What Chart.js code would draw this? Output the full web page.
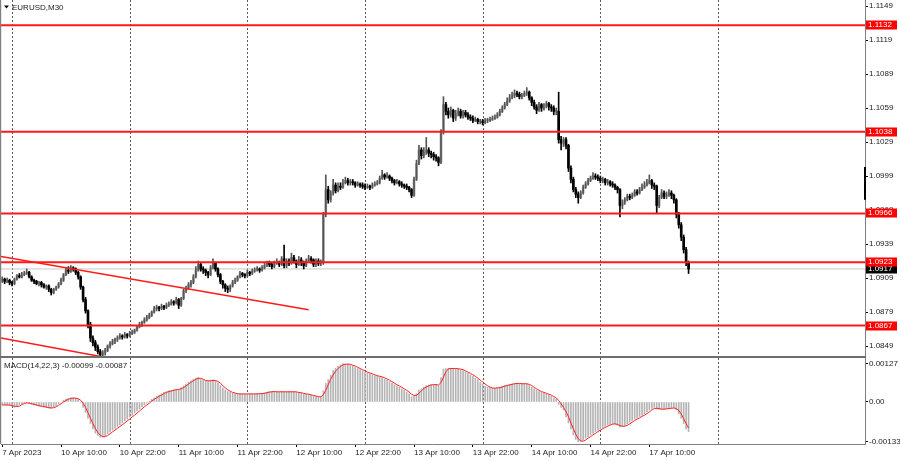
<!DOCTYPE html>
<html><head><meta charset="utf-8">
<script src="https://cdn.jsdelivr.net/npm/chart.js@4.4.0/dist/chart.umd.min.js"></script>
<style>
html,body{margin:0;padding:0;background:#fff;overflow:hidden}
#wrap{position:relative;width:900px;height:460px;background:#fff}
canvas{position:absolute;left:0}
</style></head><body>
<div id="wrap">
<canvas id="main" width="900" height="358" style="top:0"></canvas>
<canvas id="macd" width="900" height="102" style="top:358px"></canvas>
</div>
<script>
// ---- EURUSD M30 candles (bar index 0 = 7 Apr 2023 22:00) ----
const opens=[
1.0907,1.0908,1.0906,1.0907,1.0905,1.0904,1.0908,1.0911,1.0910,1.0912,
1.0913,1.0914,1.0910,1.0907,1.0906,1.0904,1.0905,1.0903,1.0901,1.0902,
1.0899,1.0896,1.0899,1.0901,1.0904,1.0907,1.0912,1.0916,1.0915,1.0918,
1.0917,1.0914,1.0910,1.0901,1.0890,1.0880,1.0868,1.0856,1.0852,1.0848,
1.0844,1.0841,1.0843,1.0845,1.0849,1.0851,1.0853,1.0855,1.0856,1.0858,
1.0857,1.0859,1.0858,1.0860,1.0861,1.0863,1.0866,1.0868,1.0870,1.0872,
1.0874,1.0876,1.0879,1.0882,1.0883,1.0882,1.0884,1.0883,1.0885,1.0886,
1.0888,1.0887,1.0890,1.0885,1.0891,1.0898,1.0900,1.0903,1.0905,1.0910,
1.0916,1.0921,1.0917,1.0916,1.0914,1.0912,1.0918,1.0922,1.0917,1.0912,
1.0906,1.0903,1.0900,1.0899,1.0902,1.0905,1.0907,1.0910,1.0913,1.0912,
1.0911,1.0914,1.0913,1.0915,1.0916,1.0917,1.0916,1.0918,1.0920,1.0922,
1.0921,1.0919,1.0922,1.0923,1.0921,1.0926,1.0920,1.0924,1.0922,1.0927,
1.0924,1.0921,1.0925,1.0923,1.0920,1.0924,1.0926,1.0925,1.0921,1.0924,
1.0922,1.0923,1.0965,1.0987,1.0978,1.0984,1.0991,1.0986,1.0990,1.0989,
1.0993,1.0995,1.0993,1.0994,1.0993,1.0991,1.0992,1.0991,1.0990,1.0989,
1.0990,1.0989,1.0991,1.0992,1.0993,1.0997,1.1000,1.0998,1.0999,1.0997,
1.0995,1.0993,1.0994,1.0992,1.0991,1.0990,1.0989,1.0987,1.0982,1.0996,
1.1010,1.1022,1.1017,1.1020,1.1022,1.1019,1.1018,1.1016,1.1015,1.1011,
1.1038,1.1062,1.1056,1.1053,1.1057,1.1050,1.1054,1.1056,1.1052,1.1055,
1.1053,1.1051,1.1050,1.1048,1.1049,1.1047,1.1047,1.1046,1.1048,1.1048,
1.1049,1.1050,1.1051,1.1053,1.1056,1.1059,1.1062,1.1065,1.1068,1.1070,
1.1072,1.1071,1.1069,1.1070,1.1072,1.1073,1.1068,1.1064,1.1060,1.1057,
1.1062,1.1059,1.1061,1.1063,1.1060,1.1059,1.1056,1.1056,1.1031,1.1028,
1.1031,1.1026,1.1006,1.0996,1.0987,1.0983,1.0980,1.0984,1.0989,1.0992,
1.0995,1.0997,1.0999,1.0998,1.0997,1.0995,1.0996,1.0993,1.0994,1.0992,
1.0991,1.0989,1.0987,1.0973,1.0976,1.0978,1.0981,1.0980,1.0982,1.0985,
1.0984,1.0987,1.0989,1.0991,1.0993,1.0995,1.0991,1.0990,1.0973,1.0980,
1.0984,1.0981,1.0982,1.0984,1.0982,1.0978,1.0965,1.0956,1.0945,1.0934,1.0923];
const highs=[
1.0910,1.0909,1.0909,1.0908,1.0906,1.0909,1.0912,1.0913,1.0914,1.0915,
1.0917,1.0915,1.0911,1.0908,1.0907,1.0906,1.0906,1.0904,1.0903,1.0903,
1.0900,1.0900,1.0902,1.0905,1.0909,1.0913,1.0918,1.0919,1.0920,1.0919,
1.0918,1.0915,1.0911,1.0902,1.0892,1.0881,1.0870,1.0858,1.0854,1.0850,
1.0846,1.0845,1.0847,1.0850,1.0853,1.0855,1.0856,1.0858,1.0860,1.0859,
1.0861,1.0860,1.0862,1.0863,1.0864,1.0867,1.0870,1.0871,1.0874,1.0876,
1.0878,1.0880,1.0884,1.0885,1.0884,1.0886,1.0885,1.0887,1.0888,1.0890,
1.0889,1.0892,1.0891,1.0892,1.0899,1.0902,1.0905,1.0907,1.0912,1.0919,
1.0924,1.0922,1.0919,1.0917,1.0915,1.0920,1.0926,1.0923,1.0918,1.0913,
1.0907,1.0904,1.0902,1.0903,1.0907,1.0909,1.0911,1.0915,1.0914,1.0913,
1.0916,1.0915,1.0917,1.0918,1.0919,1.0918,1.0920,1.0922,1.0924,1.0924,
1.0922,1.0924,1.0926,1.0924,1.0928,1.0938,1.0926,1.0926,1.0931,1.0929,
1.0925,1.0928,1.0927,1.0924,1.0926,1.0929,1.0928,1.0926,1.0926,1.0926,
1.0925,1.0967,1.1000,1.0990,1.0986,1.0996,1.0993,1.0993,1.0993,1.0996,
1.0998,1.0997,1.0996,1.0996,1.0994,1.0994,1.0993,1.0993,1.0992,1.0992,
1.0991,1.0993,1.0994,1.0995,1.0999,1.1004,1.1001,1.1002,1.1000,1.0998,
1.0996,1.0996,1.0995,1.0994,1.0992,1.0992,1.0990,1.0988,1.0998,1.1013,
1.1026,1.1024,1.1024,1.1033,1.1024,1.1021,1.1020,1.1018,1.1016,1.1040,
1.1069,1.1064,1.1059,1.1060,1.1058,1.1057,1.1059,1.1058,1.1057,1.1057,
1.1055,1.1053,1.1052,1.1051,1.1050,1.1049,1.1049,1.1050,1.1050,1.1051,
1.1052,1.1053,1.1055,1.1058,1.1061,1.1064,1.1068,1.1071,1.1073,1.1075,
1.1074,1.1073,1.1072,1.1074,1.1077,1.1074,1.1069,1.1066,1.1062,1.1064,
1.1063,1.1063,1.1065,1.1064,1.1062,1.1061,1.1059,1.1073,1.1034,1.1033,
1.1033,1.1027,1.1008,1.0998,1.0989,1.0985,1.0986,1.0991,1.0994,1.0997,
1.0999,1.1002,1.1001,1.1000,1.0999,1.0998,1.0997,1.0996,1.0995,1.0994,
1.0992,1.0990,1.0988,1.0978,1.0980,1.0983,1.0983,1.0984,1.0987,1.0987,
1.0989,1.0992,1.0994,1.0996,1.1000,1.0996,1.0993,1.0991,1.0982,1.0987,
1.0986,1.0985,1.0987,1.0986,1.0983,1.0979,1.0967,1.0958,1.0947,1.0936,1.0924];
const lows=[
1.0905,1.0904,1.0905,1.0903,1.0902,1.0903,1.0907,1.0909,1.0909,1.0911,
1.0912,1.0909,1.0906,1.0904,1.0903,1.0902,1.0901,1.0900,1.0899,1.0897,
1.0894,1.0895,1.0898,1.0900,1.0903,1.0906,1.0911,1.0913,1.0914,1.0915,
1.0912,1.0908,1.0899,1.0888,1.0878,1.0865,1.0853,1.0849,1.0845,1.0842,
1.0839,1.0839,1.0841,1.0844,1.0847,1.0850,1.0851,1.0853,1.0855,1.0855,
1.0856,1.0856,1.0857,1.0859,1.0860,1.0862,1.0865,1.0866,1.0869,1.0871,
1.0873,1.0875,1.0878,1.0880,1.0880,1.0881,1.0881,1.0882,1.0884,1.0885,
1.0885,1.0886,1.0882,1.0884,1.0890,1.0896,1.0899,1.0901,1.0904,1.0909,
1.0915,1.0915,1.0913,1.0911,1.0909,1.0911,1.0917,1.0915,1.0910,1.0904,
1.0900,1.0897,1.0896,1.0897,1.0901,1.0904,1.0906,1.0909,1.0910,1.0909,
1.0910,1.0911,1.0912,1.0914,1.0915,1.0914,1.0915,1.0917,1.0919,1.0919,
1.0917,1.0918,1.0921,1.0919,1.0920,1.0918,1.0918,1.0920,1.0921,1.0922,
1.0918,1.0920,1.0920,1.0917,1.0919,1.0923,1.0922,1.0919,1.0919,1.0920,
1.0920,1.0921,1.0963,1.0975,1.0976,1.0982,1.0984,1.0985,1.0987,1.0988,
1.0992,1.0991,1.0991,1.0991,1.0989,1.0990,1.0989,1.0988,1.0987,1.0988,
1.0987,1.0988,1.0990,1.0991,1.0992,1.0996,1.0996,1.0997,1.0995,1.0993,
1.0991,1.0992,1.0990,1.0989,1.0988,1.0987,1.0985,1.0980,1.0981,1.0995,
1.1009,1.1014,1.1015,1.1018,1.1016,1.1015,1.1013,1.1012,1.1008,1.1010,
1.1036,1.1053,1.1050,1.1051,1.1047,1.1048,1.1052,1.1050,1.1050,1.1051,
1.1049,1.1048,1.1046,1.1047,1.1045,1.1045,1.1044,1.1045,1.1046,1.1047,
1.1048,1.1049,1.1050,1.1052,1.1055,1.1058,1.1061,1.1064,1.1067,1.1068,
1.1069,1.1067,1.1067,1.1069,1.1070,1.1066,1.1061,1.1058,1.1054,1.1056,
1.1056,1.1057,1.1059,1.1057,1.1056,1.1053,1.1053,1.1028,1.1022,1.1025,
1.1023,1.1003,1.0993,1.0985,1.0980,1.0975,1.0979,1.0983,1.0988,1.0991,
1.0994,1.0996,1.0996,1.0995,1.0993,1.0993,1.0991,1.0991,1.0990,1.0989,
1.0987,1.0984,1.0963,1.0970,1.0974,1.0977,1.0978,1.0979,1.0981,1.0982,
1.0983,1.0986,1.0988,1.0990,1.0992,1.0988,1.0987,1.0966,1.0971,1.0979,
1.0979,1.0979,1.0981,1.0979,1.0975,1.0962,1.0953,1.0942,1.0931,1.0920,1.0913];
const closes=[
1.0908,1.0906,1.0907,1.0905,1.0904,1.0908,1.0911,1.0910,1.0912,1.0913,
1.0914,1.0910,1.0907,1.0906,1.0904,1.0905,1.0903,1.0901,1.0902,1.0899,
1.0896,1.0899,1.0901,1.0904,1.0907,1.0912,1.0916,1.0915,1.0918,1.0917,
1.0914,1.0910,1.0901,1.0890,1.0880,1.0868,1.0856,1.0852,1.0848,1.0844,
1.0841,1.0843,1.0845,1.0849,1.0851,1.0853,1.0855,1.0856,1.0858,1.0857,
1.0859,1.0858,1.0860,1.0861,1.0863,1.0866,1.0868,1.0870,1.0872,1.0874,
1.0876,1.0879,1.0882,1.0883,1.0882,1.0884,1.0883,1.0885,1.0886,1.0888,
1.0887,1.0890,1.0885,1.0891,1.0898,1.0900,1.0903,1.0905,1.0910,1.0916,
1.0921,1.0917,1.0916,1.0914,1.0912,1.0918,1.0922,1.0917,1.0912,1.0906,
1.0903,1.0900,1.0899,1.0902,1.0905,1.0907,1.0910,1.0913,1.0912,1.0911,
1.0914,1.0913,1.0915,1.0916,1.0917,1.0916,1.0918,1.0920,1.0922,1.0921,
1.0919,1.0922,1.0923,1.0921,1.0926,1.0920,1.0924,1.0922,1.0927,1.0924,
1.0921,1.0925,1.0923,1.0920,1.0924,1.0926,1.0925,1.0921,1.0924,1.0922,
1.0923,1.0965,1.0987,1.0978,1.0984,1.0991,1.0986,1.0990,1.0989,1.0993,
1.0995,1.0993,1.0994,1.0993,1.0991,1.0992,1.0991,1.0990,1.0989,1.0990,
1.0989,1.0991,1.0992,1.0993,1.0997,1.1000,1.0998,1.0999,1.0997,1.0995,
1.0993,1.0994,1.0992,1.0991,1.0990,1.0989,1.0987,1.0982,1.0996,1.1010,
1.1022,1.1017,1.1020,1.1022,1.1019,1.1018,1.1016,1.1015,1.1011,1.1038,
1.1062,1.1056,1.1053,1.1057,1.1050,1.1054,1.1056,1.1052,1.1055,1.1053,
1.1051,1.1050,1.1048,1.1049,1.1047,1.1047,1.1046,1.1048,1.1048,1.1049,
1.1050,1.1051,1.1053,1.1056,1.1059,1.1062,1.1065,1.1068,1.1070,1.1072,
1.1071,1.1069,1.1070,1.1072,1.1073,1.1068,1.1064,1.1060,1.1057,1.1062,
1.1059,1.1061,1.1063,1.1060,1.1059,1.1056,1.1056,1.1031,1.1028,1.1031,
1.1026,1.1006,1.0996,1.0987,1.0983,1.0980,1.0984,1.0989,1.0992,1.0995,
1.0997,1.0999,1.0998,1.0997,1.0995,1.0996,1.0993,1.0994,1.0992,1.0991,
1.0989,1.0987,1.0973,1.0976,1.0978,1.0981,1.0980,1.0982,1.0985,1.0984,
1.0987,1.0989,1.0991,1.0993,1.0995,1.0991,1.0990,1.0973,1.0980,1.0984,
1.0981,1.0982,1.0984,1.0982,1.0978,1.0965,1.0956,1.0945,1.0934,1.0923,1.0917];

// ---- MACD(14,22,3): main (histogram) and signal ----
const macdMain=[
-10e-5,-10e-5,-10e-5,-11e-5,-14e-5,-18e-5,-14e-5,-9e-5,-5e-5,-2e-5,
-3e-5,-6e-5,-8e-5,-10e-5,-12e-5,-14e-5,-15e-5,-17e-5,-19e-5,-20e-5,
-21e-5,-16e-5,-12e-5,-6e-5,0,6e-5,10e-5,12e-5,14e-5,14e-5,
12e-5,8e-5,-2e-5,-18e-5,-35e-5,-55e-5,-72e-5,-90e-5,-104e-5,-112e-5,
-118e-5,-117e-5,-113e-5,-106e-5,-100e-5,-94e-5,-88e-5,-82e-5,-76e-5,-70e-5,
-63e-5,-57e-5,-50e-5,-44e-5,-37e-5,-30e-5,-23e-5,-16e-5,-10e-5,-4e-5,
3e-5,9e-5,14e-5,19e-5,23e-5,28e-5,32e-5,35e-5,37e-5,39e-5,
41e-5,42e-5,42e-5,48e-5,54e-5,60e-5,66e-5,71e-5,76e-5,80e-5,
82e-5,75e-5,72e-5,70e-5,70e-5,73e-5,74e-5,70e-5,64e-5,55e-5,
47e-5,40e-5,35e-5,32e-5,29e-5,28e-5,27e-5,27e-5,27e-5,26e-5,
27e-5,27e-5,27e-5,27e-5,28e-5,28e-5,29e-5,31e-5,33e-5,35e-5,
35e-5,34e-5,34e-5,33e-5,35e-5,34e-5,34e-5,34e-5,35e-5,34e-5,
32e-5,31e-5,29e-5,26e-5,26e-5,25e-5,22e-5,19e-5,18e-5,16e-5,
17e-5,38e-5,62e-5,75e-5,90e-5,105e-5,113e-5,119e-5,124e-5,128e-5,
127e-5,126e-5,124e-5,120e-5,115e-5,112e-5,108e-5,104e-5,100e-5,97e-5,
94e-5,91e-5,88e-5,86e-5,84e-5,82e-5,77e-5,73e-5,68e-5,63e-5,
58e-5,54e-5,49e-5,44e-5,39e-5,33e-5,27e-5,18e-5,20e-5,28e-5,
40e-5,44e-5,50e-5,55e-5,57e-5,58e-5,58e-5,58e-5,56e-5,82e-5,
110e-5,112e-5,112e-5,113e-5,111e-5,111e-5,111e-5,108e-5,104e-5,100e-5,
96e-5,91e-5,86e-5,80e-5,74e-5,66e-5,60e-5,53e-5,49e-5,47e-5,
46e-5,46e-5,48e-5,50e-5,53e-5,55e-5,57e-5,59e-5,61e-5,62e-5,
62e-5,61e-5,61e-5,61e-5,60e-5,55e-5,49e-5,44e-5,39e-5,35e-5,
32e-5,29e-5,27e-5,23e-5,19e-5,13e-5,9e-5,-8e-5,-18e-5,-27e-5,
-50e-5,-70e-5,-90e-5,-110e-5,-125e-5,-133e-5,-132e-5,-127e-5,-121e-5,-116e-5,
-110e-5,-105e-5,-99e-5,-94e-5,-89e-5,-85e-5,-81e-5,-77e-5,-74e-5,-72e-5,
-74e-5,-78e-5,-84e-5,-82e-5,-78e-5,-73e-5,-68e-5,-62e-5,-57e-5,-53e-5,
-48e-5,-44e-5,-39e-5,-33e-5,-27e-5,-22e-5,-18e-5,-24e-5,-25e-5,-24e-5,
-23e-5,-22e-5,-21e-5,-20e-5,-19e-5,-26e-5,-40e-5,-55e-5,-72e-5,-90e-5,-99e-5];
const macdSignal=[
-10e-5,-10e-5,-10e-5,-10e-5,-12e-5,-14e-5,-15e-5,-14e-5,-9e-5,-5e-5,
-3e-5,-4e-5,-6e-5,-8e-5,-10e-5,-12e-5,-14e-5,-15e-5,-17e-5,-19e-5,
-20e-5,-19e-5,-16e-5,-11e-5,-6e-5,0,5e-5,9e-5,12e-5,13e-5,
13e-5,11e-5,6e-5,-4e-5,-18e-5,-36e-5,-54e-5,-72e-5,-89e-5,-102e-5,
-111e-5,-116e-5,-116e-5,-112e-5,-106e-5,-100e-5,-94e-5,-88e-5,-82e-5,-76e-5,
-70e-5,-63e-5,-57e-5,-50e-5,-44e-5,-37e-5,-30e-5,-23e-5,-16e-5,-10e-5,
-4e-5,3e-5,9e-5,14e-5,19e-5,23e-5,28e-5,32e-5,35e-5,37e-5,
39e-5,41e-5,42e-5,44e-5,48e-5,54e-5,60e-5,66e-5,71e-5,76e-5,
79e-5,79e-5,76e-5,72e-5,71e-5,71e-5,72e-5,72e-5,69e-5,63e-5,
55e-5,47e-5,41e-5,36e-5,32e-5,30e-5,28e-5,27e-5,27e-5,27e-5,
27e-5,27e-5,27e-5,27e-5,27e-5,28e-5,28e-5,29e-5,31e-5,33e-5,
34e-5,35e-5,34e-5,34e-5,34e-5,34e-5,34e-5,34e-5,34e-5,34e-5,
34e-5,32e-5,31e-5,29e-5,27e-5,26e-5,24e-5,22e-5,20e-5,18e-5,
17e-5,24e-5,39e-5,58e-5,76e-5,90e-5,103e-5,112e-5,119e-5,124e-5,
126e-5,127e-5,126e-5,123e-5,120e-5,116e-5,112e-5,108e-5,104e-5,100e-5,
97e-5,94e-5,91e-5,88e-5,86e-5,84e-5,81e-5,77e-5,73e-5,68e-5,
63e-5,58e-5,54e-5,49e-5,44e-5,39e-5,33e-5,26e-5,22e-5,22e-5,
29e-5,37e-5,45e-5,50e-5,54e-5,57e-5,58e-5,58e-5,57e-5,65e-5,
83e-5,101e-5,111e-5,112e-5,112e-5,112e-5,111e-5,110e-5,108e-5,104e-5,
100e-5,96e-5,91e-5,86e-5,80e-5,73e-5,67e-5,60e-5,54e-5,50e-5,
47e-5,46e-5,47e-5,48e-5,50e-5,53e-5,55e-5,57e-5,59e-5,61e-5,
62e-5,62e-5,61e-5,61e-5,61e-5,59e-5,55e-5,49e-5,44e-5,39e-5,
35e-5,32e-5,29e-5,26e-5,23e-5,18e-5,14e-5,5e-5,-6e-5,-18e-5,
-32e-5,-49e-5,-70e-5,-90e-5,-108e-5,-123e-5,-130e-5,-131e-5,-127e-5,-121e-5,
-116e-5,-110e-5,-105e-5,-99e-5,-94e-5,-89e-5,-85e-5,-81e-5,-77e-5,-74e-5,
-73e-5,-75e-5,-79e-5,-81e-5,-81e-5,-78e-5,-73e-5,-68e-5,-62e-5,-57e-5,
-53e-5,-48e-5,-44e-5,-39e-5,-33e-5,-27e-5,-22e-5,-21e-5,-22e-5,-24e-5,
-24e-5,-23e-5,-22e-5,-21e-5,-20e-5,-22e-5,-28e-5,-40e-5,-56e-5,-72e-5,-87e-5];

// ---- axis ticks / labels ----
const timeTickIdx=[0,24,48,72,96,120,144,168,192,216,240,264];
const timeTickText=['7 Apr 2023','10 Apr 10:00','10 Apr 22:00','11 Apr 10:00','11 Apr 22:00','12 Apr 10:00','12 Apr 22:00','13 Apr 10:00','13 Apr 22:00','14 Apr 10:00','14 Apr 22:00','17 Apr 10:00'];
const daySepIdx=[4,52,100,148,196,244,292];
const priceTicks=[1.0849,1.0879,1.0909,1.0939,1.0969,1.0999,1.1029,1.1059,1.1089,1.1119,1.1149];
const macdTicks=[-0.00133,0,0.00127];
const macdTickText=['-0.00133','0.00','0.00127'];
// ---- drawn objects ----
const levels=[1.1132,1.1038,1.0966,1.0923,1.0867];
const lastPrice=1.0917;
const trendUpperX=[-0.49,125], trendUpperY=[1.0928,1.0881];
const trendLowerX=[-0.49,42], trendLowerY=[1.0856,1.0839];
const shiftMark=[1.1007,1.0978];
const title='EURUSD,M30';
const macdTitle='MACD(14,22,3) -0.00099 -0.00087';

// ---- ranges ----
const X_MIN=-0.49, X_MAX=351.97;
const P_MIN=1.08402, P_MAX=1.11543;
const M_MIN=-0.001404, M_MAX=0.0014705;

Chart.defaults.font.family='"Liberation Sans", Arial, sans-serif';
Chart.defaults.font.size=8;
Chart.defaults.color='#000';

const FONT='8px "Liberation Sans", Arial, sans-serif';
const idx=closes.map((_,i)=>i);
const bodyColors=closes.map((c,i)=>c>=opens[i]?'#a2a2a2':'#000000');
const wickColors=closes.map((c,i)=>c>=opens[i]?'#555555':'#000000');

function drawDaySeps(chart){
  const {ctx,chartArea:a,scales:{x}}=chart;
  ctx.save();
  ctx.strokeStyle='#5a5a5a';ctx.lineWidth=1;ctx.setLineDash([2,2]);
  daySepIdx.forEach(d=>{
    const px=Math.round(x.getPixelForValue(d))+0.5;
    if(px<a.left||px>a.right)return;
    ctx.beginPath();ctx.moveTo(px,a.top);ctx.lineTo(px,a.bottom);ctx.stroke();
  });
  ctx.restore();
}
function noPadY(s){s.width=35;s.paddingTop=0;s.paddingBottom=0;}
function noPadX(s){s.height=16;s.paddingLeft=0;s.paddingRight=0;}

const mainDeco={
  id:'mainDeco',
  beforeDatasetsDraw(chart){drawDaySeps(chart);},
  afterDraw(chart){
    const {ctx,chartArea:a,scales:{y}}=chart;
    ctx.save();
    ctx.fillStyle='#808080';
    ctx.fillRect(0,0,1.2,a.bottom);
    ctx.fillStyle='#6e6e6e';
    ctx.fillRect(0,a.bottom,a.right+1,2);
    const t=y.getPixelForValue(shiftMark[0]),b=y.getPixelForValue(shiftMark[1]);
    ctx.fillStyle='#000';ctx.fillRect(a.right-1,t,2,b-t);
    ctx.fillStyle='#000';
    ctx.beginPath();ctx.moveTo(4,5.5);ctx.lineTo(9,5.5);ctx.lineTo(6.5,8.5);ctx.closePath();ctx.fill();
    ctx.font=FONT;ctx.textBaseline='middle';ctx.textAlign='left';
    ctx.fillStyle='#222';ctx.fillText(title,12,7.5);
    const box=(v,bg)=>{
      const py=y.getPixelForValue(v);
      ctx.fillStyle=bg;ctx.fillRect(a.right+1,Math.round(py)-4.5,31,9);
      ctx.fillStyle='#fff';ctx.fillText(v.toFixed(4),a.right+3,Math.round(py));
    };
    box(lastPrice,'#000');
    levels.forEach(v=>box(v,'#ff0000'));
    ctx.restore();
  }
};

const macdDeco={
  id:'macdDeco',
  beforeDatasetsDraw(chart){drawDaySeps(chart);},
  afterDraw(chart){
    const {ctx,chartArea:a}=chart;
    ctx.save();
    ctx.fillStyle='#808080';ctx.fillRect(0,0,1.2,a.bottom);
    ctx.font=FONT;ctx.textBaseline='middle';ctx.textAlign='left';
    ctx.fillStyle='#222';ctx.fillText(macdTitle,4,7.5);
    ctx.restore();
  }
};

const lineDs=(xs,ys,color,width,order)=>({type:'line',data:xs.map((xv,k)=>({x:xv,y:ys[k]})),borderColor:color,borderWidth:width,pointRadius:0,order:order,tension:0});

new Chart(document.getElementById('main'),{
  type:'bar',
  data:{datasets:[
    ...levels.map(v=>lineDs([X_MIN,X_MAX],[v,v],'#ff1a1a',2,0)),
    lineDs(trendUpperX,trendUpperY,'#ff1a1a',1.5,1),
    lineDs(trendLowerX,trendLowerY,'#ff1a1a',1.5,1),
    lineDs([X_MIN,X_MAX],[lastPrice,lastPrice],'#c8c8c8',1,30),
    {type:'bar',data:idx.map(i=>({x:i,y:[opens[i],closes[i]]})),backgroundColor:bodyColors,barThickness:2,minBarLength:1,grouped:false,order:21,borderWidth:0},
    {type:'bar',data:idx.map(i=>({x:i,y:[lows[i],highs[i]]})),backgroundColor:wickColors,barThickness:1,grouped:false,order:20,borderWidth:0}
  ]},
  options:{
    responsive:false,animation:false,
    layout:{padding:{left:1,top:0,right:0,bottom:2}},
    plugins:{legend:{display:false},tooltip:{enabled:false}},
    scales:{
      x:{type:'linear',min:X_MIN,max:X_MAX,offset:false,display:false,grid:{offset:false}},
      y:{position:'right',min:P_MIN,max:P_MAX,beginAtZero:false,
        afterBuildTicks:s=>{s.ticks=priceTicks.map(v=>({value:v}));},
        afterFit:noPadY,
        grid:{drawOnChartArea:false,drawTicks:true,tickLength:3,color:'#000'},
        border:{display:true,color:'#808080',width:1},
        ticks:{padding:1,autoSkip:false,color:'#222',callback:v=>Number(v).toFixed(4)}}
    }
  },
  plugins:[mainDeco]
});

new Chart(document.getElementById('macd'),{
  type:'bar',
  data:{datasets:[
    {type:'line',data:idx.map(i=>({x:i,y:macdSignal[i]})),borderColor:'#ff2020',borderWidth:1,pointRadius:0,order:0,tension:0},
    {type:'bar',data:idx.map(i=>({x:i,y:macdMain[i]})),backgroundColor:'#b4b4b4',barThickness:1,grouped:false,order:1,borderWidth:0}
  ]},
  options:{
    responsive:false,animation:false,
    layout:{padding:{left:1,top:0,right:0,bottom:0}},
    plugins:{legend:{display:false},tooltip:{enabled:false}},
    scales:{
      x:{type:'linear',min:X_MIN,max:X_MAX,offset:false,
        afterBuildTicks:s=>{s.ticks=timeTickIdx.map(v=>({value:v}));},
        afterFit:noPadX,
        grid:{drawOnChartArea:false,drawTicks:true,tickLength:3,color:'#000',offset:false},
        border:{display:true,color:'#808080',width:1},
        ticks:{align:'start',padding:1,maxRotation:0,minRotation:0,autoSkip:false,color:'#222',
          callback:v=>timeTickText[timeTickIdx.indexOf(v)]}},
      y:{position:'right',min:M_MIN,max:M_MAX,beginAtZero:false,
        afterBuildTicks:s=>{s.ticks=macdTicks.map(v=>({value:v}));},
        afterFit:noPadY,
        grid:{drawOnChartArea:false,drawTicks:true,tickLength:3,color:'#000'},
        border:{display:true,color:'#808080',width:1},
        ticks:{padding:1,autoSkip:false,color:'#222',callback:v=>macdTickText[macdTicks.indexOf(v)]}}
    }
  },
  plugins:[macdDeco]
});
</script>
</body></html>
